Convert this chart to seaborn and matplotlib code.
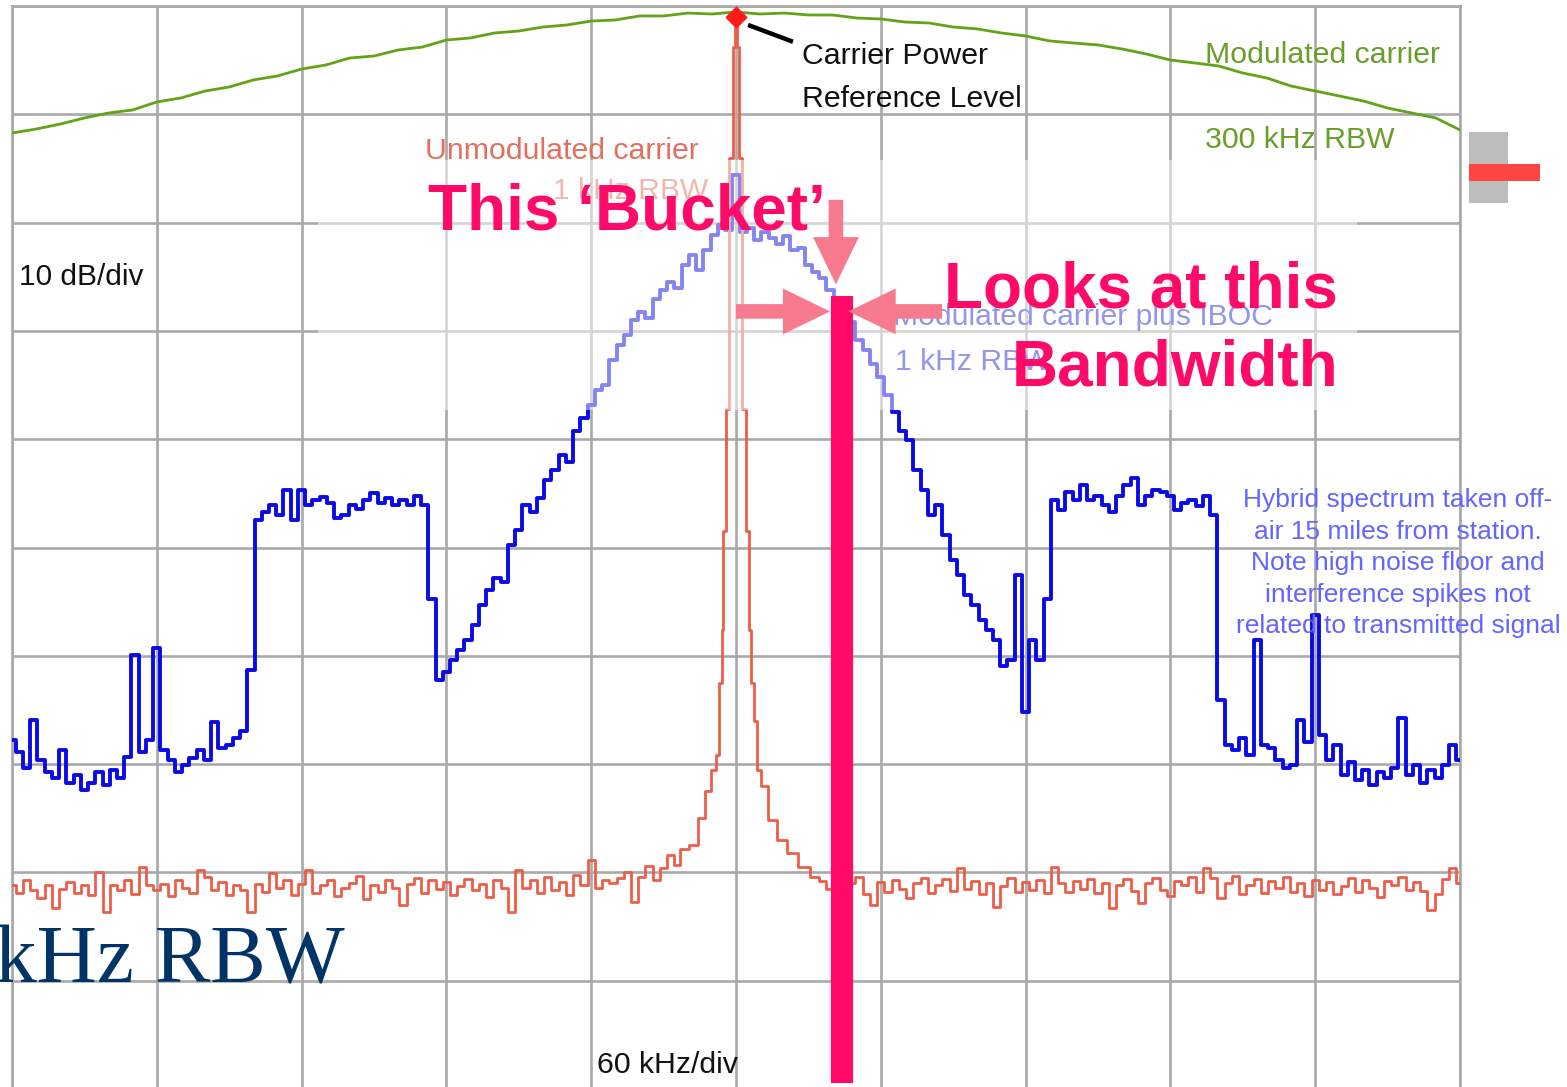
import numpy as np
import pandas as pd
import matplotlib
matplotlib.use("Agg")
import matplotlib.pyplot as plt
from matplotlib.patches import Rectangle
import seaborn as sns

# ------------------------------------------------------------------ data
# frequency offset from carrier (kHz, 60 kHz/div) and level (dB, 10 dB/div)
SPAN_KHZ = (-300, 300)
LEVEL_DB = (-100, 0)

# Modulated carrier plus IBOC, 1 kHz RBW (blue)
blue_khz = np.arange(-300, 301, 3)
blue_db = [
    -67.8, -68.9, -70.4, -65.9, -69.6, -70.7, -71.3, -68.7, -71.7, -71.0,
    -72.4, -71.7, -70.7, -71.9, -70.5, -71.3, -69.3, -59.9, -68.9, -67.8,
    -59.3, -68.7, -69.6, -70.7, -70.1, -69.4, -68.7, -69.6, -66.1, -68.5,
    -68.2, -67.6, -66.9, -61.3, -47.5, -46.7, -46.1, -47.0, -44.7, -47.5,
    -44.7, -46.1, -45.6, -45.3, -45.9, -47.3, -47.0, -46.1, -46.4, -45.6,
    -45.0, -45.9, -45.4, -46.1, -45.6, -46.1, -45.2, -46.1, -54.8, -62.2,
    -61.5, -60.4, -59.5, -58.5, -57.2, -55.3, -53.9, -52.8, -53.2, -49.8,
    -48.4, -46.1, -46.7, -45.4, -43.8, -42.8, -41.5, -42.1, -39.2, -38.0,
    -36.8, -35.5, -35.0, -32.7, -31.3, -30.4, -29.0, -28.3, -28.8, -27.1,
    -26.2, -25.5, -26.0, -23.9, -23.0, -24.4, -22.5, -21.1, -20.2, -20.7,
    -15.6, -20.9, -20.5, -21.6, -20.9, -21.4, -22.0, -21.2, -22.5, -22.3,
    -23.9, -24.6, -25.1, -26.2, -27.1, -28.5, -29.2, -30.8, -31.8, -33.1,
    -34.3, -35.9, -37.5, -39.2, -40.1, -42.8, -44.7, -47.0, -46.1, -48.8,
    -51.2, -52.5, -54.4, -55.3, -56.7, -57.6, -58.5, -60.9, -60.4, -52.5,
    -65.2, -58.5, -60.4, -54.8, -45.6, -46.5, -44.9, -45.6, -44.2, -45.6,
    -45.2, -46.1, -46.7, -45.2, -44.2, -43.6, -46.1, -45.2, -44.7, -44.9,
    -45.2, -46.5, -45.9, -45.6, -46.2, -45.2, -47.0, -64.1, -68.2, -68.7,
    -67.6, -69.2, -58.5, -68.2, -68.5, -69.6, -70.4, -70.1, -65.9, -68.0,
    -56.2, -67.3, -69.6, -68.2, -71.0, -69.8, -71.5, -70.5, -71.9, -70.7,
    -71.3, -70.4, -65.7, -71.0, -70.1, -71.7, -70.5, -71.3, -70.1, -68.2,
    -69.6,
]

# Modulated carrier, 300 kHz RBW (green)
green_khz = np.arange(-300, 301, 10)
green_db = [
    -11.73, -11.36, -10.90, -10.34, -9.88, -9.60, -8.86, -8.49, -7.85, -7.48,
    -6.83, -6.46, -5.82, -5.45, -4.80, -4.62, -4.06, -3.79, -3.14, -2.95,
    -2.49, -2.31, -1.94, -1.75, -1.39, -1.29, -0.92, -0.92, -0.65, -0.74,
    -0.55, -0.74, -0.65, -0.83, -0.83, -1.11, -1.20, -1.48, -1.57, -1.94,
    -2.12, -2.49, -2.77, -3.23, -3.42, -3.60, -3.97, -4.43, -4.99, -5.26,
    -5.54, -6.19, -6.65, -7.39, -7.85, -8.31, -8.77, -9.42, -9.88, -10.34,
    -11.45,
]

# Unmodulated carrier, 1 kHz RBW (red): left floor, carrier skirt, right floor
red_left_khz = np.arange(-300, -32, 3)
red_left_db = [
    -81.2, -81.9, -80.7, -81.6, -82.4, -81.2, -83.3, -81.5, -80.9, -81.9,
    -81.2, -82.1, -80.0, -83.7, -81.2, -81.6, -80.7, -82.0, -79.5, -81.2,
    -81.6, -81.1, -82.2, -80.7, -81.4, -81.9, -79.8, -80.4, -81.6, -80.9,
    -82.1, -81.2, -81.6, -83.7, -81.1, -81.8, -80.1, -81.4, -80.7, -82.1,
    -81.1, -79.8, -81.9, -81.2, -80.7, -82.2, -81.4, -81.0, -80.3, -82.5,
    -81.2, -81.8, -80.7, -81.4, -83.0, -81.1, -80.5, -81.9, -80.7, -81.5,
    -80.9, -82.1, -81.3, -80.6, -81.6, -81.1, -82.3, -80.7, -81.4, -83.7,
    -79.8, -81.4, -80.7, -81.9, -80.4, -81.6, -80.9, -82.1, -80.2, -81.2,
    -78.9, -81.4, -80.7, -81.0, -80.5, -80.0, -82.7, -80.4, -79.4, -80.7,
]
red_mid_khz = [-30.0, -27.0, -24.5, -21.5, -17.8, -14.1, -11.6, -9.1, -7.5, -6.4,
               -5.6, -4.8, -3.5, -2.1, -0.8, 0.0, 0.8, 1.9, 3.1, 4.8,
               6.0, 6.8, 7.9, 9.5, 11.6, 14.7, 18.9, 23.0, 28.4, 33.0]
red_mid_db = [-79.6, -78.4, -79.3, -77.8, -77.5, -75.0, -72.5, -70.5, -69.2, -62.5,
              -57.6, -48.5, -37.2, -14.0, -3.8, -1.0, -3.8, -14.0, -37.2, -48.5,
              -57.6, -62.5, -66.0, -70.5, -72.0, -75.2, -77.0, -78.2, -79.5, -80.4]
red_right_khz = np.arange(36, 301, 3)
red_right_db = [
    -80.8, -81.5, -80.6, -82.3, -81.0, -80.4, -82.0, -83.0, -80.9, -81.8,
    -80.7, -81.5, -82.4, -81.0, -80.5, -81.9, -81.2, -80.6, -81.7, -79.6,
    -81.5, -80.8, -82.0, -81.0, -83.2, -81.3, -80.5, -81.8, -80.9, -81.6,
    -80.7, -81.9, -79.5, -81.0, -81.8, -80.8, -81.5, -80.6, -81.9, -81.0,
    -83.3, -81.2, -80.6, -81.7, -82.8, -81.0, -80.5, -81.6, -82.2, -80.8,
    -81.2, -80.4, -81.8, -79.6, -80.5, -82.4, -81.0, -80.3, -82.0, -81.2,
    -80.6, -81.9, -80.8, -81.4, -80.4, -81.8, -81.0, -82.2, -80.7, -81.6,
    -80.9, -82.0, -81.3, -80.5, -81.8, -80.7, -81.4, -82.3, -80.8, -81.2,
    -80.4, -81.6, -80.9, -81.7, -83.5, -82.0, -80.6, -79.6, -81.0,
]

carrier_khz, carrier_db = 0.0, -1.0          # carrier power reference level
bucket_khz, bucket_top_db = 43.9, -26.8       # 1 kHz "bucket" position
overlay_khz = (-173.2, 257.4)                 # faded label band
overlay_db = (-37.3, -14.2)

hybrid_note = ["Hybrid spectrum taken off-", "air 15 miles from station.",
               "Note high noise floor and", "interference spikes not",
               "related to transmitted signal"]

# ------------------------------------------------------------------ style
sns.set_style("white")
plt.rcParams["font.family"] = ["Liberation Sans", "DejaVu Sans"]

W, H, DPI = 1567, 1087, 100
fig = plt.figure(figsize=(W / DPI, H / DPI), dpi=DPI)
fig.patch.set_facecolor("white")
ax = fig.add_axes([12 / W, 1 - 1089 / H, 1448 / W, 1083 / H])


def fx(px):
    return px / W


def fy(py):
    return 1 - py / H


def label(px, py, s, **kw):
    kw.setdefault("va", "baseline")
    return ax.text(fx(px), fy(py), s, transform=fig.transFigure, clip_on=False, **kw)


GRID = "#a9a9a9"
BLUE = "#0a0ae6"
RED = "#ec5e48"
GREEN = "#62a318"
PINK = "#ff0a68"
ARROW = "#f87a8e"

# traces
red_df = pd.DataFrame({
    "khz": np.concatenate([red_left_khz, red_mid_khz, red_right_khz]),
    "db": np.concatenate([red_left_db, red_mid_db, red_right_db]),
})
sns.lineplot(x=blue_khz, y=blue_db, ax=ax, color=BLUE, lw=2.8,
             drawstyle="steps-mid", estimator=None, sort=False, zorder=3, legend=False)
sns.lineplot(data=red_df, x="khz", y="db", ax=ax, color=RED, lw=2.0,
             drawstyle="steps-mid", estimator=None, sort=False, zorder=3.5, legend=False)
sns.lineplot(x=green_khz, y=green_db, ax=ax, color=GREEN, lw=2.0,
             estimator=None, sort=False, zorder=6, legend=False)

ax.set_xlim(*SPAN_KHZ)
ax.set_ylim(*LEVEL_DB)
ax.set_xticks(np.arange(-300, 301, 60))
ax.set_yticks(np.arange(-100, 1, 10))
ax.tick_params(length=0, labelbottom=False, labelleft=False)
ax.set_xlabel("")
ax.set_ylabel("")
ax.set_axisbelow(True)
ax.grid(True, color=GRID, lw=1.9)
for s in ax.spines.values():
    s.set_color(GRID)
    s.set_linewidth(1.9)
ax.spines["bottom"].set_visible(False)

# labels under the faded band
SALMON = "#e2705e"
LAV = "#2a2ae0"
label(553, 199, "1 kHz RBW", fontsize=21.6, color=SALMON, zorder=4)
label(1273, 325, "Modulated carrier plus IBOC", fontsize=21.7, color=LAV,
      ha="right", zorder=4)
label(895, 370, "1 kHz RBW", fontsize=21.7, color=LAV, zorder=4)

# faded band (semi-transparent white)
ax.add_patch(Rectangle((overlay_khz[0], overlay_db[0]),
                       overlay_khz[1] - overlay_khz[0], overlay_db[1] - overlay_db[0],
                       facecolor="white", alpha=0.5, lw=0, zorder=5))

# carrier reference marker + leader
ax.plot([5.0, 23.6], [-1.75, -3.3], color="black", lw=3.2, zorder=6.5,
        solid_capstyle="butt")
ax.scatter([carrier_khz], [carrier_db], marker="D", s=110, color="#ff1a1a",
           edgecolor="#ff1a1a", zorder=7)

# bucket bar and arrows
ax.plot([bucket_khz, bucket_khz], [bucket_top_db, -99.4], color=PINK, lw=16,
        solid_capstyle="butt", zorder=8)
arrow_kw = dict(arrowstyle="simple,head_width=3.3,head_length=3.4,tail_width=1.05",
                mutation_scale=10, color=ARROW, lw=0, shrinkA=0, shrinkB=0)
ax.annotate("", xy=(41.4, -25.7), xytext=(41.4, -17.9),
            arrowprops=arrow_kw, zorder=8)
ax.annotate("", xy=(39.0, -28.2), xytext=(0.0, -28.2),
            arrowprops=arrow_kw, zorder=8)
ax.annotate("", xy=(46.6, -28.2), xytext=(85.4, -28.2),
            arrowprops=arrow_kw, zorder=8)

# texts
label(802, 64, "Carrier Power", fontsize=21.8, color="#111111", zorder=9)
label(802, 107, "Reference Level", fontsize=21.8, color="#111111", zorder=9)
label(1205, 63, "Modulated carrier", fontsize=21.8, color="#6a9e2a", zorder=9)
label(1205, 148, "300 kHz RBW", fontsize=21.8, color="#6a9e2a", zorder=9)
label(425, 159, "Unmodulated carrier", fontsize=21.8, color=SALMON, zorder=9)
label(19, 285, "10 dB/div", fontsize=21.5, color="#111111", zorder=9)
label(597, 1073, "60 kHz/div", fontsize=21.8, color="#111111", zorder=9)

label(428, 230, "This \u2018Bucket\u2019", fontsize=46, color=PINK,
      fontweight="bold", zorder=10)
label(1338, 307, "Looks at this", fontsize=46, color=PINK,
      fontweight="bold", ha="right", zorder=10)
label(1338, 385, "Bandwidth", fontsize=46, color=PINK,
      fontweight="bold", ha="right", zorder=10)

for i, line in enumerate(hybrid_note):
    label(1398, 507 + 31.6 * i, line, fontsize=19, color="#6464ff",
          ha="center", zorder=9)

label(-5, 982, "kHz RBW", fontsize=60, color="#003366",
      family=["Liberation Serif", "DejaVu Serif"], zorder=9)

# small legend-like icon at right edge
fig.patches.append(Rectangle((fx(1469), fy(203)), (1508 - 1469) / W, (203 - 132) / H,
                             transform=fig.transFigure, facecolor="#bdbdbd", lw=0))
fig.patches.append(Rectangle((fx(1469), fy(181)), (1540 - 1469) / W, (181 - 164) / H,
                             transform=fig.transFigure, facecolor="#ff4444", lw=0))

fig.savefig("out.png", dpi=DPI, facecolor="white")
